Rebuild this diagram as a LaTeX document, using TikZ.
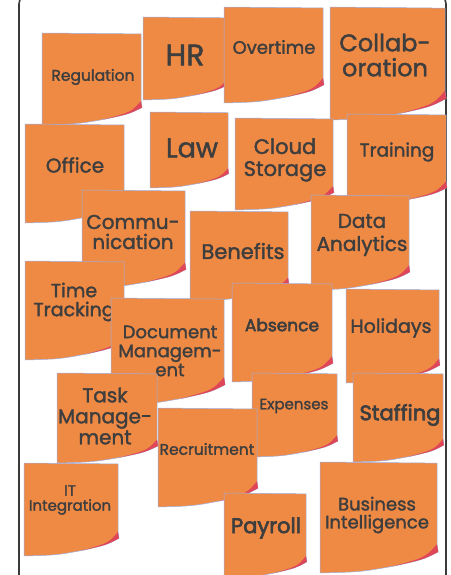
\documentclass[tikz,border=0pt]{standalone}
\usepackage{fontspec}
\setmainfont{Poppins}[FakeBold=1.7]
\newfontfamily\heavyfont{Poppins}[FakeBold=3.2]

\definecolor{noteorange}{HTML}{EF8A45}
\definecolor{curlpink}{HTML}{DF4759}
\definecolor{noteedge}{HTML}{9CAEE0}
\definecolor{inkgray}{HTML}{3E3E3E}
\definecolor{framegray}{HTML}{3A3A3A}

\tikzset{
  notefill/.style={fill=noteorange, draw=noteedge, line width=0.5pt},
  curl/.style={fill=curlpink},
  notetext/.style={text=inkgray, align=center, inner sep=0pt},
}

% font size and baseline skip in one go
\newcommand{\sz}[2]{\fontsize{#1}{#2}\selectfont}

% sticky note: top left corner (#1,#2), width #3, height #4
\newcommand{\stickynote}[4]{%
  \begin{scope}[shift={(#1,#2)}, xscale=#3, yscale=#4]
    \filldraw[notefill] (0,0) -- (1,0.01) -- (1,0.74) -- (1.01,0.81)
      .. controls (0.88,0.88) .. (0.62,0.94)
      .. controls (0.35,0.99) .. (0,1) -- cycle;
    \fill[curl] (1,0.74) .. controls (0.9,0.86) .. (0.62,0.94)
      .. controls (0.88,0.88) .. (1.01,0.81) -- cycle;
  \end{scope}}

\begin{document}
\begin{tikzpicture}[x=1pt, y=-1pt]
  \useasboundingbox (0,0) rectangle (450,575);
  \draw[framegray, line width=1.6pt, rounded corners=10pt] (19,-6) rectangle (446,600);

  % top row
  \stickynote{42}{33}{99}{92}
  \node[notetext, font=\sz{15.5}{16}] (regulation) at (93,77) {Regulation};
  \stickynote{143}{17}{85}{83}
  \node[notetext, font=\sz{30}{30}] (hr) at (185,55) {HR};
  \stickynote{224}{7}{99}{96}
  \node[notetext, font=\sz{18}{18}] (overtime) at (274,47) {Overtime};
  \stickynote{330}{7}{115}{113}
  \node[notetext, font=\sz{24}{25}] (collab) at (385,55) {Collab-\\oration};

  % second row
  \stickynote{150}{112}{78}{76}
  \node[notetext, font=\sz{27}{27}] (law) at (192,148) {Law};
  \stickynote{25}{124}{99}{99}
  \node[notetext, font=\sz{20}{20}] (office) at (75,165) {Office};
  \stickynote{235}{118}{98}{92}
  \node[notetext, font=\sz{21}{22}] (cloud) at (285,160) {Cloud\\Storage};
  \stickynote{347}{114}{99}{91}
  \node[notetext, font=\sz{18.5}{19}] (training) at (397,152) {Training};

  % third row
  \stickynote{82}{190}{103}{98}
  \node[notetext, font=\sz{20}{20}] (commu) at (133,232) {Commu-\\nication};
  \stickynote{190}{211}{98}{90}
  \node[notetext, font=\sz{21}{21}] (benefits) at (243,251) {Benefits};
  \stickynote{311}{195}{98}{95}
  \node[notetext, font=\sz{20}{23}] (data) at (362,235) {Data\\Analytics};

  % fourth row
  \stickynote{25}{261}{99}{99}
  \node[notetext, font=\sz{19}{19}] (timetrack) at (74,302) {Time\\Tracking};
  \stickynote{111}{298}{113}{107}
  \node[notetext, font=\sz{18}{19}] (docmgmt) at (170,351) {Document\\Managem-\\ent};
  \stickynote{232}{283}{100}{99}
  \node[notetext, font=\heavyfont\sz{17}{17}] (absence) at (282,325) {Absence};
  \stickynote{346}{289}{93}{94}
  \node[notetext, font=\sz{19}{19}] (holidays) at (391,328) {Holidays};

  % fifth row
  \stickynote{57}{373}{100}{90}
  \node[notetext, font=\sz{20}{21}] (taskmgmt) at (105,416) {Task\\Manage-\\ment};
  \stickynote{252}{373}{85}{84}
  \node[notetext, font=\sz{15}{15}] (expenses) at (294,406) {Expenses};
  \stickynote{158}{408}{99}{99}
  \node[notetext, font=\sz{15.5}{16}] (recruit) at (207,449) {Recruitment};
  \stickynote{353}{373}{90}{89}
  \node[notetext, font=\heavyfont\sz{21}{21}] (staffing) at (400,415) {Staffing};

  % bottom row
  \stickynote{24}{463}{94}{93}
  \node[notetext, font=\sz{15}{15}] (itint) at (70,500) {IT\\Integration};
  \stickynote{224}{493}{82}{85}
  \node[notetext, font=\heavyfont\sz{21}{21}] (payroll) at (266,528) {Payroll};
  \stickynote{320}{462}{117}{111}
  \node[notetext, font=\sz{18}{18}] (bi) at (377,515) {Business\\Intelligence};
\end{tikzpicture}
\end{document}
